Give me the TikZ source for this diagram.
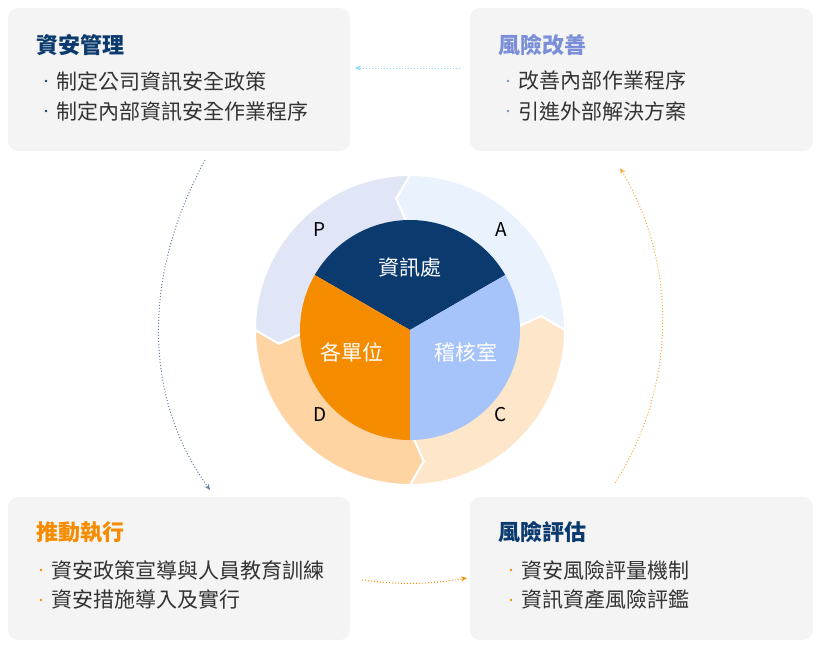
\documentclass[tikz,border=0pt]{standalone}
\usepackage{fontspec}
\setmainfont{Noto Sans CJK TC}
\usetikzlibrary{arrows.meta}
\definecolor{navy}{HTML}{0B3A6E}
\definecolor{peri}{HTML}{7B8FD8}
\definecolor{orng}{HTML}{F58C00}
\definecolor{boxgray}{HTML}{F4F4F5}
\definecolor{ringP}{HTML}{E1E6F7}
\definecolor{ringA}{HTML}{EAF2FD}
\definecolor{ringD}{HTML}{FDD4A2}
\definecolor{ringC}{HTML}{FDE6C9}
\definecolor{audit}{HTML}{A6C4FA}
\tikzset{
  box/.style={fill=boxgray, rounded corners=10pt},
  title/.style={anchor=west, font=\bfseries\fontsize{22}{22}\selectfont},
  item/.style={anchor=west, font=\fontsize{21}{21}\selectfont, text=black!80},
  dot/.style={circle, inner sep=1pt},
  flow/.style={dotted, line width=1pt, -{Stealth[length=6pt, width=5pt]}},
  seg/.style={draw=white, line width=2pt},
  letter/.style={font=\fontsize{19}{19}\selectfont},
  unit/.style={text=white, font=\fontsize{21}{21}\selectfont}
}
% ring sector with a chevron at both ends
\newcommand{\ringseg}[3]{%
  \filldraw[seg, fill=#3] (#1:100) -- (#1+6:132) -- (#1:155) arc (#1:#2:155)
    -- (#2+6:132) -- (#2:100) arc (#2:#1:100) -- cycle;}
\begin{document}
\begin{tikzpicture}[x=1pt, y=-1pt]
  \useasboundingbox (0,0) rectangle (819,646);

  % the four boxes
  \fill[box] (8,8) rectangle (350,151);
  \fill[box] (470,8) rectangle (813,151);
  \fill[box] (8,497) rectangle (350,640);
  \fill[box] (470,497) rectangle (813,640);

  \node[title, text=navy] (plan) at (33,45) {資安管理};
  \node[dot, fill=navy] (p1) at (46,81) {};
  \node[item] at (53,81) {制定公司資訊安全政策};
  \node[dot, fill=navy] (p2) at (46,111) {};
  \node[item] at (53,111) {制定內部資訊安全作業程序};

  \node[title, text=peri] (act) at (495,45) {風險改善};
  \node[dot, fill=peri] (a1) at (508,81) {};
  \node[item] at (515,81) {改善內部作業程序};
  \node[dot, fill=peri] (a2) at (508,111) {};
  \node[item] at (515,111) {引進外部解決方案};

  \node[title, text=orng] (do) at (33,532) {推動執行};
  \node[dot, fill=orng] (d1) at (41,570) {};
  \node[item] at (48,570) {資安政策宣導與人員教育訓練};
  \node[dot, fill=orng] (d2) at (41,600) {};
  \node[item] at (48,600) {資安措施導入及實行};

  \node[title, text=navy] (check) at (495,532) {風險評估};
  \node[dot, fill=orng] (c1) at (511,570) {};
  \node[item] at (518,570) {資安風險評量機制};
  \node[dot, fill=orng] (c2) at (511,600) {};
  \node[item] at (518,600) {資訊資產風險評鑑};

  % PDCA ring
  \begin{scope}[shift={(410,330)}, yscale=-1]
    \ringseg{0}{90}{ringA}
    \ringseg{90}{180}{ringP}
    \ringseg{180}{270}{ringD}
    \ringseg{270}{360}{ringC}
    \fill[navy] (0,0) -- (30:110) arc (30:150:110) -- cycle;
    \fill[orng] (0,0) -- (150:110) arc (150:270:110) -- cycle;
    \fill[audit] (0,0) -- (270:110) arc (270:390:110) -- cycle;
  \end{scope}

  \node[letter] (P) at (320,230) {P};
  \node[letter] (A) at (501,230) {A};
  \node[letter] (D) at (320,415) {D};
  \node[letter] (C) at (501,415) {C};
  \node[unit] (it) at (410,268) {資訊處};
  \node[unit] (dept) at (352,352) {各單位};
  \node[unit] (auditor) at (466,352) {稽核室};

  % cycle connectors
  \coordinate (tA) at (460,68);  \coordinate (tP) at (355,68);
  \coordinate (lP) at (205,160); \coordinate (lD) at (210,490);
  \coordinate (bD) at (362,580); \coordinate (bC) at (467,578);
  \coordinate (rC) at (615,483); \coordinate (rA) at (620,168);
  \draw[flow, color=blue!35!cyan!45!white] (tA) -- (tP);
  \draw[flow, color=navy!65] (lP) .. controls (140,280) and (145,400) .. (lD);
  \draw[flow, color=orng] (bD) to[bend right=8] (bC);
  \draw[flow, color=orng!75] (rC) .. controls (680,380) and (675,260) .. (rA);
\end{tikzpicture}
\end{document}
